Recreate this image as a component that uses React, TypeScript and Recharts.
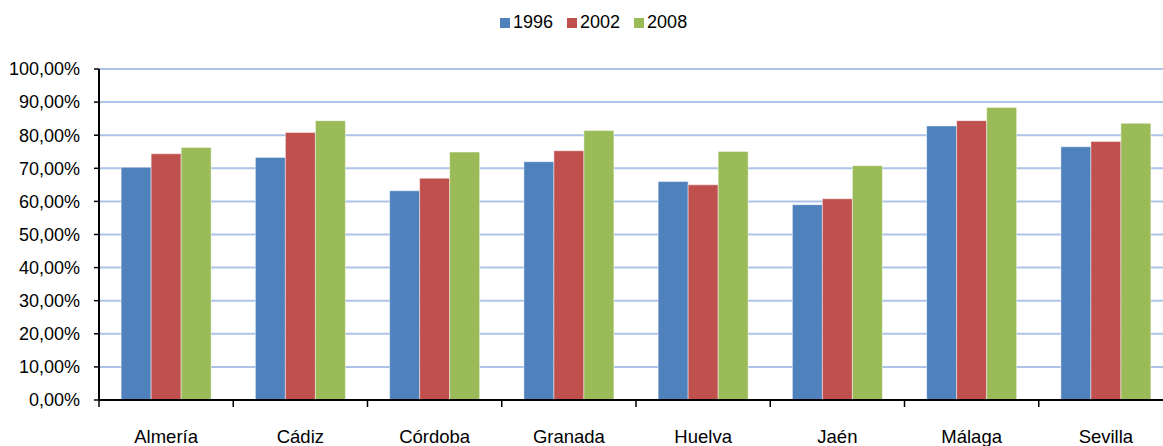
import React from 'react';
import { BarChart, Bar, XAxis, YAxis, CartesianGrid, Legend } from 'recharts';

const categories = ['Almería', 'Cádiz', 'Córdoba', 'Granada', 'Huelva', 'Jaén', 'Málaga', 'Sevilla'];
const values1996 = [70.3, 73.3, 63.2, 72.0, 66.0, 59.0, 82.8, 76.5];
const values2002 = [74.4, 80.8, 67.0, 75.3, 65.0, 60.8, 84.4, 78.1];
const values2008 = [76.3, 84.4, 74.9, 81.4, 75.1, 70.8, 88.4, 83.6];
const yTicks = [0, 10, 20, 30, 40, 50, 60, 70, 80, 90, 100];

const seriesList = [
  { key: 'y1996', name: '1996', color: '#4F81BD' },
  { key: 'y2002', name: '2002', color: '#C0504D' },
  { key: 'y2008', name: '2008', color: '#9BBB59' },
];

const data = categories.map((name, i) => ({
  name,
  y1996: values1996[i],
  y2002: values2002[i],
  y2008: values2008[i],
}));

const FONT = '"Liberation Sans", Arial, sans-serif';
const CHART_W = 1180;
const CHART_H = 446;
const Y_AXIS_W = 99;
const MARGIN = { top: 69, right: 7, left: 0, bottom: 0 };
// width of one category band, used to put the x tick marks on the category boundaries
const BAND = (CHART_W - MARGIN.left - MARGIN.right - Y_AXIS_W) / categories.length;

const formatPct = (v: number) => `${v.toFixed(2).replace('.', ',')}%`;

const CategoryTick = ({ x, y, payload }: any) => (
  <g>
    <line x1={x - BAND / 2} y1={y} x2={x - BAND / 2} y2={y + 7} stroke="#000" strokeWidth={1.5} />
    <text x={x} y={y + 43} textAnchor="middle" fill="#000" fontSize={18.5} fontFamily={FONT}>
      {payload.value}
    </text>
  </g>
);

const LegendContent = () => (
  <div style={{ display: 'flex', alignItems: 'center', fontFamily: FONT, fontSize: 18, lineHeight: '21px', color: '#000' }}>
    {seriesList.map(s => (
      <div key={s.key} style={{ display: 'flex', alignItems: 'center', marginRight: 14 }}>
        <span style={{ display: 'inline-block', width: 10, height: 10, background: s.color, marginRight: 3 }} />
        <span>{s.name}</span>
      </div>
    ))}
  </div>
);

export default function App() {
  return (
    <div style={{ position: 'fixed', top: 0, left: 0, width: 1163, height: 446, overflow: 'hidden', background: '#fff' }}>
      <BarChart
        width={CHART_W}
        height={CHART_H}
        data={data}
        margin={MARGIN}
        barCategoryGap="16.5%"
        barGap={0}
      >
        <CartesianGrid vertical={false} stroke="#AEC3E8" strokeWidth={2} />
        <XAxis
          dataKey="name"
          height={46}
          axisLine={{ stroke: '#000', strokeWidth: 2 }}
          tickLine={false}
          tickSize={0}
          tickMargin={0}
          interval={0}
          tick={<CategoryTick />}
        />
        <YAxis
          width={Y_AXIS_W}
          domain={[0, 100]}
          ticks={yTicks}
          interval={0}
          tickFormatter={formatPct}
          axisLine={{ stroke: '#000', strokeWidth: 2 }}
          tickLine={{ stroke: '#000', strokeWidth: 1.5 }}
          tickSize={5}
          tickMargin={14}
          tick={{ fill: '#000', fontSize: 18, fontFamily: FONT }}
        />
        <Legend
          verticalAlign="middle"
          align="center"
          layout="horizontal"
          content={<LegendContent />}
          wrapperStyle={{ top: 12, left: 500, width: 300 }}
        />
        {seriesList.map(s => (
          <Bar
            key={s.key}
            dataKey={s.key}
            name={s.name}
            fill={s.color}
            stroke="rgba(255,255,255,0.45)"
            strokeWidth={1}
            isAnimationActive={false}
          />
        ))}
      </BarChart>
    </div>
  );
}
